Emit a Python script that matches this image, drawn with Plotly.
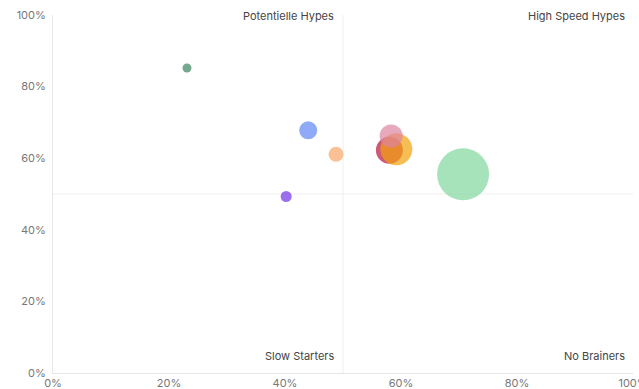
import plotly.graph_objects as go

# data
x_share = [0.231, 0.440, 0.488, 0.402, 0.580, 0.592, 0.583, 0.707]
y_share = [0.852, 0.678, 0.611, 0.493, 0.622, 0.625, 0.662, 0.555]
volume = [9, 18, 15, 11, 27, 32, 23, 52]
colors = ["#3b835e", "#5f87f3", "#f9a666", "#6f33e7", "#b8133e", "#f2a10c", "#de84a1", "#80d79e"]

quadrant_labels = ["Potentielle Hypes", "High Speed Hypes", "Slow Starters", "No Brainers"]
quadrant_x = [0.5, 1.0, 0.5, 1.0]
quadrant_y = [1.0, 1.0, 0.0, 0.0]
tick_vals = [0, 0.2, 0.4, 0.6, 0.8, 1.0]

fig = go.Figure()
fig.add_trace(go.Scatter(
    x=x_share, y=y_share, mode="markers",
    marker=dict(size=volume, sizemode="diameter", sizeref=1, color=colors,
                opacity=0.7, line=dict(width=0)),
    hoverinfo="x+y",
))

font = "Inter, 'Liberation Sans', Arial, sans-serif"
for i, t in enumerate(quadrant_labels):
    fig.add_annotation(
        x=quadrant_x[i], y=quadrant_y[i], xref="x", yref="y", text=t,
        showarrow=False, xanchor="right", xshift=-7 if quadrant_x[i] == 0.5 else -6,
        yanchor="middle", yshift=-1 if quadrant_y[i] == 1.0 else 17,
        font=dict(family=font, size=11, color="#444"),
    )

fig.add_shape(type="line", x0=0.5, x1=0.5, y0=0, y1=1, xref="x", yref="y",
              line=dict(color="#efefef", width=1), layer="below")
fig.add_shape(type="line", x0=0, x1=1, y0=0.5, y1=0.5, xref="x", yref="y",
              line=dict(color="#efefef", width=1), layer="below")

fig.update_layout(
    width=639, height=389,
    margin=dict(l=53, r=6, t=15, b=16, autoexpand=False),
    paper_bgcolor="white", plot_bgcolor="white",
    showlegend=False,
    font=dict(family=font, size=11, color="#777"),
    xaxis=dict(range=[0, 1], tickvals=tick_vals, tickformat=".0%",
               showgrid=False, zeroline=False, showline=True, automargin=False,
               ticklabeloverflow="allow",
               linecolor="#e6e6e6", linewidth=1, ticks="", ticklabelstandoff=0),
    yaxis=dict(range=[0, 1], tickvals=tick_vals, tickformat=".0%",
               showgrid=False, zeroline=False, showline=True, automargin=False,
               ticklabeloverflow="allow",
               linecolor="#e6e6e6", linewidth=1, ticks="", ticklabelstandoff=4),
)

fig.write_html("out.html")
